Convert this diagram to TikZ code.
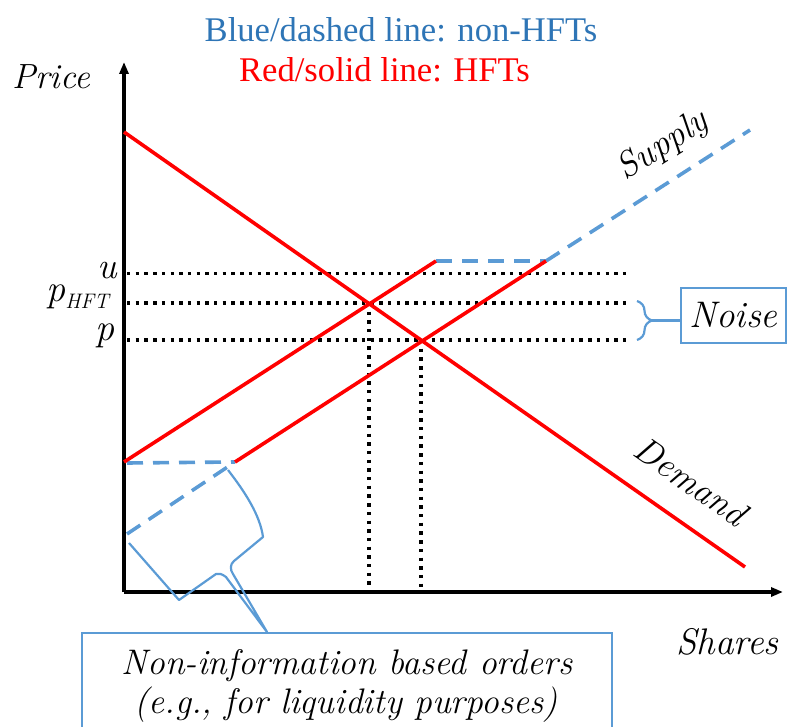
\documentclass[tikz,border=0pt]{standalone}
\usepackage{fontspec}
\newfontfamily\timesfont{Liberation Serif}
\usetikzlibrary{arrows.meta,decorations.pathreplacing}
\definecolor{lineblue}{RGB}{91,155,213}
\definecolor{titleblue}{RGB}{46,117,182}
\definecolor{hftred}{RGB}{255,0,0}
\begin{document}
\begin{tikzpicture}[x=1pt,y=-1pt,
  axis/.style={line width=3.2pt,-{Triangle[length=12pt,width=9pt]}},
  hft/.style={hftred,line width=3.6pt},
  nonhft/.style={lineblue,line width=3.6pt,dash pattern=on 16pt off 10pt},
  guide/.style={line width=3.4pt,dash pattern=on 3.4pt off 5.3pt},
  callout/.style={lineblue,line width=2.2pt},
  lbl/.style={font=\fontsize{35}{40}\selectfont\itshape,inner sep=0pt},
  title/.style={font=\timesfont\fontsize{34.6}{40}\selectfont,inner sep=0pt,anchor=base}]
\useasboundingbox (0,0) rectangle (790,727);
% titles
\node[title,text=titleblue] (t1) at (401,42) {Blue/dashed line: non-HFTs};
\node[title,text=hftred] (t2) at (384.5,82) {Red/solid line: HFTs};
% axes
\coordinate (O) at (124,592);
\coordinate (ytop) at (124,62);
\coordinate (xend) at (783,592);
\draw[axis] (O) -- (ytop);
\draw[axis] (O) -- (xend);
\node[lbl,anchor=base west] (price) at (12,89) {Price};
\node[lbl,anchor=base west,font=\fontsize{37}{40}\selectfont\itshape] (shares) at (676,654) {Shares};
% key points
\coordinate (d1) at (124,132);
\coordinate (d2) at (745,567);
\coordinate (s1a) at (124,462);
\coordinate (s1b) at (436,261);
\coordinate (s2a) at (235,462);
\coordinate (s2b) at (546,261);
\coordinate (sext) at (750,130);
\coordinate (lowd) at (127,534);
\coordinate (ihft) at (369,303);
\coordinate (ip) at (421,340);
% guide lines
\draw[guide] (127,273.5) -- (627,273.5);
\draw[guide] (127,303) -- (627,303);
\draw[guide] (127,340) -- (627,340);
\draw[guide] (ihft) -- (ihft |- O);
\draw[guide] (ip) -- (ip |- O);
% non-HFT dashed
\draw[nonhft] (127,463) -- (s2a);
\draw[nonhft] (lowd) -- (s2a);
\draw[nonhft] (s1b) -- (s2b);
\draw[nonhft] (s2b) -- (sext);
% HFT red
\draw[hft] (d1) -- (d2);
\draw[hft] (s1a) -- (s1b);
\draw[hft] (s2a) -- (s2b);
% axis labels
\node[lbl,anchor=base east,font=\fontsize{37}{40}\selectfont\itshape] (u) at (117,279) {u};
\node[lbl,anchor=base east] (phft) at (109,302) {\fontsize{38}{40}\selectfont p\raisebox{-7pt}{\fontsize{21}{21}\selectfont HFT}};
\node[lbl,anchor=base east,font=\fontsize{38}{40}\selectfont\itshape] (p) at (115,341) {p};
\node[lbl,rotate=33,font=\fontsize{36}{40}\selectfont\itshape] (supply) at (663,146) {Supply};
\node[lbl,rotate=-35,font=\fontsize{36}{40}\selectfont\itshape] (demand) at (691,481) {Demand};
% noise
\node[draw=lineblue,line width=2.2pt,minimum width=105pt,minimum height=55pt,lbl,font=\fontsize{37}{40}\selectfont\itshape,inner sep=0pt] (noise) at (733.5,315.5) {Noise};
\draw[callout,decorate,decoration={brace,amplitude=15pt}] (637,301) -- (637,340);
\coordinate (btip) at (652,320.5);
\draw[callout] (btip) -- (noise.west |- btip);
% orders box
\node[draw=lineblue,line width=2.2pt,minimum width=530pt,minimum height=110pt,anchor=north west,inner sep=0pt] (orders) at (81,632) {};
\node[lbl,anchor=base,font=\fontsize{35.5}{40}\selectfont\itshape] (o1) at (347,674) {Non-information based orders};
\node[lbl,anchor=base,font=\fontsize{35.5}{40}\selectfont\itshape] (o2) at (346,713) {(e.g., for liquidity purposes)};
\coordinate (tip) at (267,632);
\draw[callout,line join=round] (228,470) .. controls (245,492) and (260,515) .. (263,537)
  -- (234,561) .. controls (230,564) and (230,570) .. (233,574) -- (tip)
  -- (226,577) .. controls (222,574) and (219,573) .. (216,574) -- (179,600) -- (129,543);
\end{tikzpicture}
\end{document}
